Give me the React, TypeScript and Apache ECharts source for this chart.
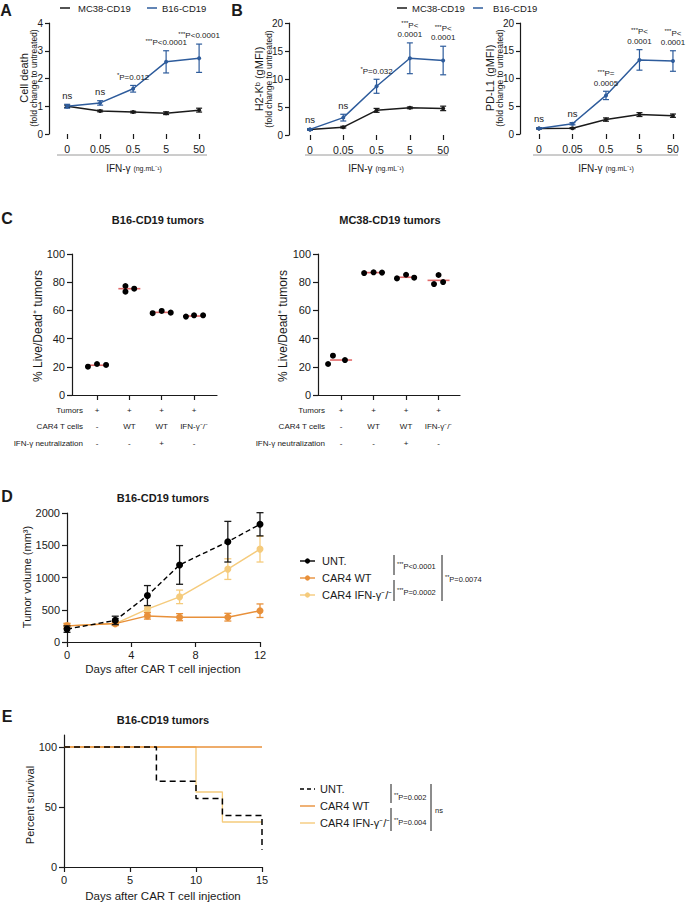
import React, { useEffect, useRef } from 'react';
import * as echarts from 'echarts';

const FONT = '"Liberation Sans", Arial, Helvetica, sans-serif';
const INK = '#1a1a1a';
const BLUE = '#2e5c9c';
const ORANGE = '#e8903a';
const YELLOW = '#f5cb7c';
const RED = '#e26a6a';

// ---------- Panels A / B : IFN-gamma dose response ----------
const ifnDoses = ['0', '0.05', '0.5', '5', '50'];
const doseIdx = [0, 1, 2, 3, 4];

const cellDeathMC38 = [1.0, 0.83, 0.79, 0.75, 0.86];
const cellDeathMC38Err = [0.04, 0.03, 0.03, 0.05, 0.07];
const cellDeathB16 = [1.0, 1.12, 1.63, 2.6, 2.73];
const cellDeathB16Err = [0.07, 0.08, 0.12, 0.4, 0.51];
const cellDeathNotes = ['ns', 'ns', '*P=0.012', '***P<0.0001', '***P<0.0001'];

const h2kbMC38 = [1.0, 1.4, 4.4, 4.85, 4.75];
const h2kbMC38Err = [0.1, 0.15, 0.35, 0.15, 0.4];
const h2kbB16 = [1.0, 3.1, 8.7, 13.7, 13.3];
const h2kbB16Err = [0.15, 0.6, 1.25, 2.75, 2.55];
const h2kbNotes = ['ns', 'ns', '*P=0.032', '***P<\n0.0001', '***P<\n0.0001'];

const pdl1MC38 = [1.0, 1.05, 2.6, 3.5, 3.3];
const pdl1MC38Err = [0.08, 0.1, 0.3, 0.35, 0.3];
const pdl1B16 = [1.0, 1.85, 6.95, 13.35, 13.15];
const pdl1B16Err = [0.1, 0.2, 0.75, 1.85, 1.85];
const pdl1Notes = ['ns', 'ns', '***P=\n0.0005', '***P<\n0.0001', '***P<\n0.0001'];

// ---------- Panel C : % Live/Dead+ tumors ----------
const tableRowNames = ['Tumors', 'CAR4 T cells', 'IFN-γ neutralization'];
const tumorsRow = ['+', '+', '+', '+'];
const carRow = ['-', 'WT', 'WT', 'IFN-γ⁻/⁻'];
const neutRow = ['-', '-', '+', '-'];

const b16Live = [[20.1, 22.0, 21.3], [77.3, 73.3, 75.4], [58.0, 59.6, 58.4], [55.6, 56.5, 56.5]];
const b16Jitter = [[-0.28, 0, 0.28], [-0.12, -0.12, 0.15], [-0.28, 0, 0.28], [-0.25, 0, 0.28]];
const b16Median = [21.1, 75.4, 58.6, 56.0];

const mc38Live = [[22.0, 27.9, 24.8], [86.5, 87.0, 86.8], [82.7, 85.3, 83.2], [78.7, 85.1, 80.1]];
const mc38Jitter = [[-0.4, -0.25, 0.12], [-0.29, 0, 0.26], [-0.28, 0, 0.25], [-0.14, 0, 0.14]];
const mc38Median = [24.8, 86.8, 83.5, 81.3];

// ---------- Panel D : tumor volume ----------
const days = [0, 3, 5, 7, 10, 12];
const untVol = [200, 335, 720, 1195, 1555, 1825];
const untErr = [50, 65, 155, 300, 315, 180];
const wtVol = [250, 285, 405, 385, 385, 485];
const wtErr = [40, 30, 50, 55, 60, 105];
const koVol = [250, 285, 510, 700, 1130, 1440];
const koErr = [35, 25, 45, 105, 160, 200];

// ---------- Panel E : survival ----------
const untSurvDays = [0, 7, 10, 12, 15];
const untSurv = [100, 71.4, 57.1, 42.9, 14.3];
const wtSurvDays = [0, 15];
const wtSurv = [100, 100];
const koSurvDays = [0, 10, 12, 15];
const koSurv = [100, 62.5, 37.5, 37.5];

function ax(gi: number, o: any = {}) {
  return {
    gridIndex: gi,
    type: 'value',
    min: o.min,
    max: o.max,
    interval: o.interval,
    axisLine: { show: true, onZero: false, lineStyle: { color: INK, width: 1.2 }, ...(o.axisLine || {}) },
    axisTick: { show: true, length: 4, lineStyle: { color: INK, width: 1.2 }, ...(o.axisTick || {}) },
    axisLabel: {
      color: INK,
      fontSize: 10,
      fontFamily: FONT,
      margin: 6,
      formatter: (v: number) => String(v),
      ...(o.axisLabel || {}),
    },
    splitLine: { show: false },
  };
}

function errorBars(gi: number, xs: number[], ys: number[], es: number[], color: string, cap: number, lw: number, z = 3) {
  return {
    type: 'custom',
    xAxisIndex: gi,
    yAxisIndex: gi,
    z,
    silent: true,
    data: xs.map((x, i) => [x, ys[i] - es[i], ys[i] + es[i]]),
    encode: { x: 0, y: [1, 2] },
    renderItem: (_p: any, api: any) => {
      const x = api.value(0);
      const lo = api.coord([x, api.value(1)]);
      const hi = api.coord([x, api.value(2)]);
      const st = { stroke: color, lineWidth: lw };
      return {
        type: 'group',
        children: [
          { type: 'line', shape: { x1: lo[0], y1: lo[1], x2: hi[0], y2: hi[1] }, style: st },
          { type: 'line', shape: { x1: lo[0] - cap, y1: lo[1], x2: lo[0] + cap, y2: lo[1] }, style: st },
          { type: 'line', shape: { x1: hi[0] - cap, y1: hi[1], x2: hi[0] + cap, y2: hi[1] }, style: st },
        ],
      };
    },
  };
}

function lineS(gi: number, xs: number[], ys: number[], color: string, size: number, extra: any = {}) {
  return {
    type: 'line',
    xAxisIndex: gi,
    yAxisIndex: gi,
    data: xs.map((x, i) => [x, ys[i]]),
    symbol: 'circle',
    symbolSize: size,
    itemStyle: { color, opacity: 1 },
    lineStyle: { color, width: 1.5, ...(extra.lineStyle || {}) },
    z: extra.z || 4,
    silent: true,
    step: extra.step,
    showSymbol: extra.showSymbol !== false,
  };
}

function fmtNote(s: string) {
  if (s === 'ns') return '{n|ns}';
  return s
    .split('\n')
    .map((line) => {
      const m = line.match(/^(\*+)(.*)$/);
      return m ? `{s|${m[1]}}{t|${m[2]}}` : `{t|${line}}`;
    })
    .join('\n');
}

const noteRich = {
  n: { fontSize: 9.5, fontFamily: FONT, color: INK, lineHeight: 11 },
  s: { fontSize: 6, fontFamily: FONT, color: INK, lineHeight: 9.5, verticalAlign: 'top' },
  t: { fontSize: 8, fontFamily: FONT, color: INK, lineHeight: 9.5 },
};

function notes(gi: number, ys: number[], es: number[], labels: string[]) {
  return {
    type: 'scatter',
    xAxisIndex: gi,
    yAxisIndex: gi,
    symbolSize: 1,
    itemStyle: { color: 'rgba(255,255,255,0)', opacity: 1 },
    silent: true,
    z: 6,
    data: ys.map((y, i) => [doseIdx[i], y + es[i]]),
    label: {
      show: true,
      position: 'top',
      distance: 3,
      color: INK,
      opacity: 1,
      formatter: (p: any) => fmtNote(labels[p.dataIndex]),
      rich: noteRich,
    },
  };
}

function groupPoints(groups: number[][], jitter: number[][]) {
  const out: number[][] = [];
  groups.forEach((g, gi) => g.forEach((v, k) => out.push([gi + 1 + jitter[gi][k], v])));
  return out;
}

function txt(x: number, y: number, text: string, size: number, o: any = {}) {
  return {
    type: 'text',
    x,
    y,
    rotation: o.rot ? Math.PI / 2 : 0,
    z: 100,
    silent: true,
    style: {
      text,
      fill: o.color || INK,
      font: `${o.bold ? 'bold ' : ''}${size}px ${FONT}`,
      textAlign: o.align || 'center',
      textVerticalAlign: 'middle',
      align: o.align || 'center',
      verticalAlign: 'middle',
      rich: o.rich,
    },
  };
}

function seg(x1: number, y1: number, x2: number, y2: number, color: string, lw: number, dash?: number[]) {
  return {
    type: 'line',
    z: 100,
    silent: true,
    shape: { x1, y1, x2, y2 },
    style: { stroke: color, lineWidth: lw, lineDash: dash },
  };
}

function dot(x: number, y: number, r: number, color: string) {
  return { type: 'circle', z: 101, silent: true, shape: { cx: x, cy: y, r }, style: { fill: color } };
}

function buildOption(): any {
  const doseAxisLabel = {
    customValues: doseIdx,
    formatter: (v: number) => ifnDoses[v],
    fontSize: 10.5,
    margin: 9,
  };
  const doseX = (gi: number, min: number) =>
    ax(gi, {
      min,
      max: 4.5,
      axisLine: { show: false },
      axisTick: { customValues: doseIdx, length: 5 },
      axisLabel: doseAxisLabel,
    });

  const tableLabel = (v: number) => `${tumorsRow[v - 1]}\n${carRow[v - 1]}\n${neutRow[v - 1]}`;
  const cX = (gi: number, min: number, max: number) =>
    ax(gi, {
      min,
      max,
      axisTick: { customValues: [1, 2, 3, 4], length: 5 },
      axisLabel: { customValues: [1, 2, 3, 4], formatter: tableLabel, fontSize: 8, lineHeight: 16.5, margin: 7 },
    });

  const grid = [
    { left: 49, top: 23, width: 166.6, height: 111 },
    { left: 289, top: 23, width: 170.8, height: 112 },
    { left: 520, top: 23, width: 169.7, height: 111 },
    { left: 72, top: 254, width: 145, height: 141 },
    { left: 318, top: 254, width: 142, height: 141 },
    { left: 67, top: 513, width: 193, height: 129 },
    { left: 64, top: 735, width: 198, height: 132 },
  ];

  const xAxis = [
    doseX(0, -0.55),
    doseX(1, -0.63),
    doseX(2, -0.567),
    cX(3, 0.227, 4.71),
    cX(4, 0.29, 4.66),
    ax(5, { min: 0, max: 12, interval: 4, axisTick: { length: 5 }, axisLabel: { fontSize: 11, margin: 7 } }),
    ax(6, { min: 0, max: 15, interval: 5, axisTick: { length: 5 }, axisLabel: { fontSize: 11, margin: 7 } }),
  ];

  const yAxis = [
    ax(0, { min: 0, max: 4, interval: 1, axisLabel: { fontSize: 10 } }),
    ax(1, { min: 0, max: 20, interval: 5, axisLabel: { fontSize: 10 } }),
    ax(2, { min: 0, max: 20, interval: 5, axisLabel: { fontSize: 10 } }),
    ax(3, { min: 0, max: 100, interval: 20, axisTick: { length: 5 }, axisLabel: { fontSize: 11, margin: 7 } }),
    ax(4, { min: 0, max: 100, interval: 20, axisTick: { length: 5 }, axisLabel: { fontSize: 11, margin: 7 } }),
    ax(5, { min: 0, max: 2000, interval: 500, axisTick: { length: 5 }, axisLabel: { fontSize: 11, margin: 7 } }),
    ax(6, {
      min: 0,
      max: 110,
      axisTick: { customValues: [0, 50, 100], length: 5 },
      axisLabel: { customValues: [0, 50, 100], fontSize: 11, margin: 7 },
    }),
  ];

  const series: any[] = [
    // A
    errorBars(0, doseIdx, cellDeathMC38, cellDeathMC38Err, INK, 3, 1.2),
    lineS(0, doseIdx, cellDeathMC38, INK, 4),
    errorBars(0, doseIdx, cellDeathB16, cellDeathB16Err, BLUE, 3, 1.2, 5),
    lineS(0, doseIdx, cellDeathB16, BLUE, 4, { z: 5 }),
    notes(0, cellDeathB16, cellDeathB16Err, cellDeathNotes),
    // B left
    errorBars(1, doseIdx, h2kbMC38, h2kbMC38Err, INK, 3, 1.2),
    lineS(1, doseIdx, h2kbMC38, INK, 4),
    errorBars(1, doseIdx, h2kbB16, h2kbB16Err, BLUE, 3, 1.2, 5),
    lineS(1, doseIdx, h2kbB16, BLUE, 4, { z: 5 }),
    notes(1, h2kbB16, h2kbB16Err, h2kbNotes),
    // B right
    errorBars(2, doseIdx, pdl1MC38, pdl1MC38Err, INK, 3, 1.2),
    lineS(2, doseIdx, pdl1MC38, INK, 4),
    errorBars(2, doseIdx, pdl1B16, pdl1B16Err, BLUE, 3, 1.2, 5),
    lineS(2, doseIdx, pdl1B16, BLUE, 4, { z: 5 }),
    notes(2, pdl1B16, pdl1B16Err, pdl1Notes),
    // C left
    {
      type: 'scatter', xAxisIndex: 3, yAxisIndex: 3, silent: true, z: 3,
      symbol: 'rect', symbolSize: [22, 1.6], itemStyle: { color: RED, opacity: 1 },
      data: b16Median.map((m, i) => [i + 1, m]),
    },
    {
      type: 'scatter', xAxisIndex: 3, yAxisIndex: 3, silent: true, z: 4,
      symbol: 'circle', symbolSize: 6, itemStyle: { color: '#000', opacity: 1 },
      data: groupPoints(b16Live, b16Jitter),
    },
    // C right
    {
      type: 'scatter', xAxisIndex: 4, yAxisIndex: 4, silent: true, z: 3,
      symbol: 'rect', symbolSize: [22, 1.6], itemStyle: { color: RED, opacity: 1 },
      data: mc38Median.map((m, i) => [i + 1, m]),
    },
    {
      type: 'scatter', xAxisIndex: 4, yAxisIndex: 4, silent: true, z: 4,
      symbol: 'circle', symbolSize: 6, itemStyle: { color: '#000', opacity: 1 },
      data: groupPoints(mc38Live, mc38Jitter),
    },
    // D
    errorBars(5, days, koVol, koErr, YELLOW, 3.5, 1.3, 3),
    lineS(5, days, koVol, YELLOW, 7, { z: 3 }),
    errorBars(5, days, wtVol, wtErr, ORANGE, 3.5, 1.3, 4),
    lineS(5, days, wtVol, ORANGE, 7, { z: 4 }),
    errorBars(5, days, untVol, untErr, INK, 3.5, 1.3, 5),
    lineS(5, days, untVol, '#000', 7, { z: 5, lineStyle: { type: [5, 3], width: 1.4 } }),
    // E
    lineS(6, koSurvDays, koSurv, YELLOW, 0, { z: 3, step: 'end', showSymbol: false, lineStyle: { width: 1.3 } }),
    lineS(6, wtSurvDays, wtSurv, ORANGE, 0, { z: 4, step: 'end', showSymbol: false, lineStyle: { width: 1.5 } }),
    lineS(6, untSurvDays, untSurv, '#000', 0, { z: 5, step: 'end', showSymbol: false, lineStyle: { type: [6, 4], width: 1.5 } }),
  ];

  const pRich = {
    s: { fontSize: 5.5, fontFamily: FONT, color: INK, verticalAlign: 'top', lineHeight: 10 },
    t: { fontSize: 7.5, fontFamily: FONT, color: INK, lineHeight: 10 },
  };
  const ifnRich = {
    a: { fontSize: 10, fontFamily: FONT, color: INK },
    b: { fontSize: 7, fontFamily: FONT, color: INK },
  };

  const graphic: any[] = [
    // panel letters
    txt(6, 10, 'A', 16, { bold: true }),
    txt(237, 10, 'B', 16, { bold: true }),
    txt(7, 218, 'C', 16, { bold: true }),
    txt(7, 496, 'D', 16, { bold: true }),
    txt(7, 716, 'E', 16, { bold: true }),
    // A/B legends
    seg(60, 8, 70, 8, INK, 1.5),
    txt(78, 8, 'MC38-CD19', 9.5, { align: 'left' }),
    seg(147, 8, 157, 8, BLUE, 1.5),
    txt(162, 8, 'B16-CD19', 9.5, { align: 'left' }),
    seg(397, 8, 407, 8, INK, 1.5),
    txt(412, 8, 'MC38-CD19', 9.5, { align: 'left' }),
    seg(473, 8, 483, 8, BLUE, 1.5),
    txt(493, 8, 'B16-CD19', 9.5, { align: 'left' }),
    // A/B y names
    txt(24, 78, 'Cell death', 11, { rot: true }),
    txt(34, 78, '(fold change to untreated)', 8.5, { rot: true }),
    txt(259, 79, 'H2-Kᵇ (gMFI)', 11, { rot: true }),
    txt(269, 79, '(fold change to untreated)', 8.5, { rot: true }),
    txt(490, 78, 'PD-L1 (gMFI)', 11, { rot: true }),
    txt(500, 78, '(fold change to untreated)', 8.5, { rot: true }),
    // A/B dose bars and captions
    seg(57, 155, 207, 155, '#9a9a9a', 1),
    seg(305, 155, 448, 155, '#9a9a9a', 1),
    seg(533, 155, 678, 155, '#9a9a9a', 1),
    txt(134, 168, '{a|IFN-γ} {b|(ng.mL⁻¹)}', 10, { rich: ifnRich }),
    txt(376, 168, '{a|IFN-γ} {b|(ng.mL⁻¹)}', 10, { rich: ifnRich }),
    txt(606, 168, '{a|IFN-γ} {b|(ng.mL⁻¹)}', 10, { rich: ifnRich }),
    // C titles and names
    txt(158, 220, 'B16-CD19 tumors', 11, { bold: true }),
    txt(390, 220, 'MC38-CD19 tumors', 11, { bold: true }),
    txt(38, 326, '% Live/Dead⁺ tumors', 12, { rot: true }),
    txt(283, 326, '% Live/Dead⁺ tumors', 12, { rot: true }),
    ...tableRowNames.map((n, i) => txt(83, 410 + i * 16.5, n, 8, { align: 'right' })),
    ...tableRowNames.map((n, i) => txt(325, 410 + i * 16.5, n, 8, { align: 'right' })),
    // D
    txt(163, 498, 'B16-CD19 tumors', 11, { bold: true }),
    txt(27, 577, 'Tumor volume (mm³)', 11, { rot: true }),
    txt(163, 669, 'Days after CAR T cell injection', 11.5),
    seg(300, 561, 315, 561, '#000', 1.4),
    dot(307.5, 561, 2.6, '#000'),
    txt(322, 561, 'UNT.', 11, { align: 'left' }),
    seg(300, 578, 315, 578, ORANGE, 1.4),
    dot(307.5, 578, 2.6, ORANGE),
    txt(322, 578, 'CAR4 WT', 11, { align: 'left' }),
    seg(300, 595, 315, 595, YELLOW, 1.4),
    dot(307.5, 595, 2.6, YELLOW),
    txt(322, 595, 'CAR4 IFN-γ⁻/⁻', 11, { align: 'left' }),
    seg(394, 555, 394, 575, INK, 1),
    txt(397, 566, '{s|***}{t|P<0.0001}', 7.5, { align: 'left', rich: pRich }),
    seg(394, 580, 394, 601, INK, 1),
    txt(397, 592, '{s|***}{t|P=0.0002}', 7.5, { align: 'left', rich: pRich }),
    seg(442, 555, 442, 601, INK, 1),
    txt(445, 579, '{s|**}{t|P=0.0074}', 7.5, { align: 'left', rich: pRich }),
    // E
    txt(163, 720, 'B16-CD19 tumors', 11, { bold: true }),
    txt(30, 805, 'Percent survival', 11, { rot: true }),
    txt(163, 896, 'Days after CAR T cell injection', 11.5),
    seg(300, 789, 315, 789, '#000', 1.4, [4, 3]),
    txt(320, 789, 'UNT.', 11, { align: 'left' }),
    seg(300, 806, 315, 806, ORANGE, 1.4),
    txt(320, 806, 'CAR4 WT', 11, { align: 'left' }),
    seg(300, 823, 315, 823, YELLOW, 1.4),
    txt(320, 823, 'CAR4 IFN-γ⁻/⁻', 11, { align: 'left' }),
    seg(391, 784, 391, 803, INK, 1),
    txt(394, 797, '{s|**}{t|P=0.002}', 7.5, { align: 'left', rich: pRich }),
    seg(391, 808, 391, 831, INK, 1),
    txt(394, 822, '{s|**}{t|P=0.004}', 7.5, { align: 'left', rich: pRich }),
    seg(431, 784, 431, 831, INK, 1),
    txt(435, 810, 'ns', 7.5, { align: 'left' }),
  ];

  return {
    animation: false,
    backgroundColor: '#ffffff',
    textStyle: { fontFamily: FONT },
    grid,
    xAxis,
    yAxis,
    series,
    graphic,
  };
}

export default function App() {
  const ref = useRef<HTMLDivElement>(null);
  useEffect(() => {
    const chart = echarts.init(ref.current as HTMLDivElement, undefined, { renderer: 'svg' });
    chart.setOption(buildOption());
    return () => chart.dispose();
  }, []);
  return (
    <div
      ref={ref}
      style={{ position: 'absolute', left: 0, top: 0, width: 690, height: 903, background: '#fff' }}
    />
  );
}
